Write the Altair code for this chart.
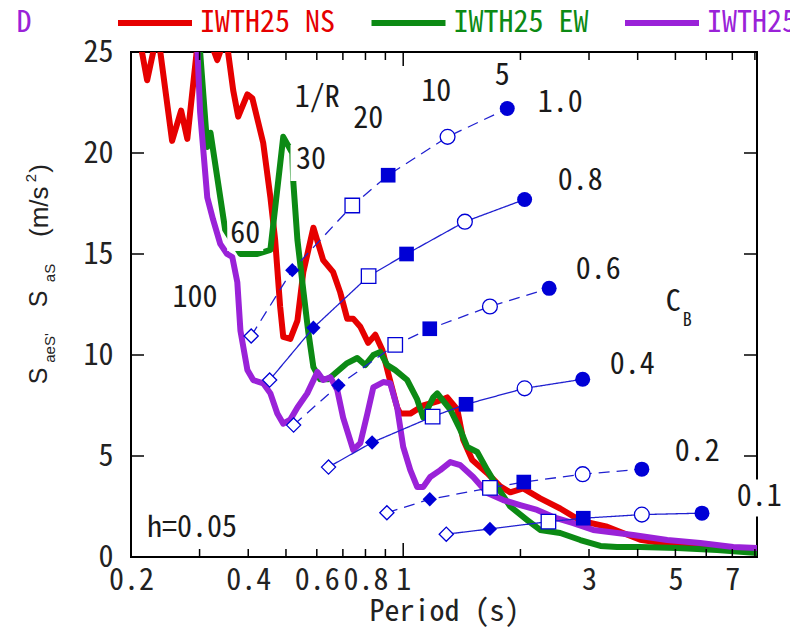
import altair as alt
import pandas as pd

FONT = "'Noto Sans Mono CJK JP', 'DejaVu Sans Mono', monospace"
SANS = "'Liberation Sans', Arial, sans-serif"
W, H = 626, 505

# ---------------- data ----------------
series_names = ["IWTH25 NS", "IWTH25 EW", "IWTH25 UD"]
series_colors = ["#e60000", "#0c8a14", "#9a22d8"]

# (period [s], S_aS [m/s2])
ns_pts = [(0.200, 27), (0.212, 25.3), (0.220, 23.6), (0.231, 25.5), (0.236, 25.5), (0.255, 20.6),
          (0.269, 22.1), (0.279, 20.7), (0.296, 25.3), (0.310, 27), (0.323, 25.3), (0.333, 24.6),
          (0.343, 25.3), (0.350, 26), (0.355, 25.0), (0.366, 23.1), (0.377, 21.8), (0.398, 22.9),
          (0.410, 22.7), (0.437, 20.5), (0.456, 17.8), (0.469, 15.7), (0.483, 12.4), (0.492, 10.9),
          (0.513, 10.8), (0.535, 11.7), (0.554, 14.1), (0.588, 16.3), (0.623, 14.7), (0.661, 14.1),
          (0.689, 13.1), (0.718, 11.8), (0.744, 11.8), (0.776, 11.4), (0.813, 10.6), (0.848, 11.0),
          (0.884, 10.25), (0.915, 9.1), (0.965, 7.4), (0.983, 7.1), (1.043, 7.1), (1.126, 7.5),
          (1.223, 7.7), (1.297, 7.9), (1.377, 7.3), (1.426, 5.8), (1.504, 4.8), (1.644, 4.15),
          (1.775, 3.5), (1.883, 3.2), (2.033, 3.4), (2.248, 2.9), (2.53, 2.4), (2.85, 1.8),
          (3.34, 1.5), (4.06, 0.85), (4.94, 0.6), (6.25, 0.45), (8.1, 0.35)]
ew_pts = [(0.296, 27), (0.301, 25), (0.314, 20.3), (0.320, 21.0), (0.349, 16.2), (0.382, 15.0),
          (0.422, 15.0), (0.456, 15.2), (0.492, 20.8), (0.519, 20.0), (0.522, 18.6), (0.535, 15.7),
          (0.554, 13.2), (0.570, 11.2), (0.588, 9.4), (0.612, 8.8), (0.642, 8.8), (0.669, 9.1),
          (0.718, 9.6), (0.762, 9.85), (0.799, 9.5), (0.838, 10.0), (0.873, 10.15), (0.910, 9.5),
          (0.954, 9.25), (1.024, 8.76), (1.086, 7.8), (1.126, 6.9), (1.194, 7.9), (1.223, 8.1),
          (1.321, 7.3), (1.401, 6.3), (1.460, 5.45), (1.549, 5.2), (1.644, 4.3), (1.744, 3.47),
          (1.883, 2.5), (2.082, 1.83), (2.248, 1.34), (2.53, 1.19), (2.85, 0.84), (3.21, 0.55),
          (3.54, 0.5), (4.06, 0.5), (5.05, 0.45), (6.4, 0.35), (8.1, 0.2)]
ud_pts = [(0.294, 27), (0.296, 25.2), (0.301, 22.0), (0.314, 17.8), (0.325, 16.7), (0.339, 15.5),
          (0.353, 15.0), (0.364, 14.85), (0.375, 13.6), (0.382, 11.2), (0.398, 9.26), (0.412, 8.76),
          (0.437, 8.6), (0.456, 8.1), (0.475, 7.1), (0.492, 6.6), (0.513, 6.8), (0.535, 7.4),
          (0.567, 8.1), (0.602, 9.16), (0.623, 8.76), (0.650, 8.9), (0.677, 8.27), (0.701, 6.9),
          (0.744, 5.3), (0.776, 5.64), (0.809, 7.1), (0.838, 8.4), (0.889, 8.66), (0.926, 8.6),
          (0.965, 7.4), (1.000, 5.45), (1.043, 4.3), (1.086, 3.47), (1.126, 3.47), (1.173, 3.96),
          (1.245, 4.3), (1.321, 4.7), (1.401, 4.55), (1.513, 3.96), (1.644, 3.17), (1.806, 2.82),
          (1.997, 2.57), (2.208, 2.33), (2.428, 1.98), (2.733, 1.68), (3.075, 1.34), (3.896, 1.09),
          (4.764, 0.84), (5.79, 0.69), (7.04, 0.5), (8.1, 0.45)]

# demand curves: C_B levels, 1/R markers
cb_levels = ["1.0", "0.8", "0.6", "0.4", "0.2", "0.1"]
inv_r = [100, 60, 30, 20, 10, 5]
cb_T = {
    "1.0": [0.407, 0.519, 0.740, 0.915, 1.30, 1.85],
    "0.8": [0.454, 0.588, 0.815, 1.02, 1.44, 2.05],
    "0.6": [0.523, 0.682, 0.954, 1.17, 1.67, 2.37],
    "0.4": [0.643, 0.832, 1.19, 1.45, 2.05, 2.89],
    "0.2": [0.908, 1.17, 1.67, 2.04, 2.89, 4.10],
    "0.1": [1.29, 1.67, 2.36, 2.90, 4.10, 5.85],
}
cb_S = {
    "1.0": [10.94, 14.2, 17.4, 18.9, 20.8, 22.2],
    "0.8": [8.76, 11.35, 13.9, 15.0, 16.6, 17.7],
    "0.6": [6.53, 8.5, 10.5, 11.3, 12.4, 13.3],
    "0.4": [4.45, 5.67, 6.95, 7.56, 8.35, 8.8],
    "0.2": [2.19, 2.86, 3.42, 3.71, 4.1, 4.35],
    "0.1": [1.13, 1.39, 1.75, 1.92, 2.1, 2.17],
}
dashed_levels = ["1.0", "0.6", "0.2"]

# annotations (text, period, S, font size)
annotations = [("1/R", 0.602, 22.7, 30), ("20", 0.813, 21.7, 30), ("10", 1.216, 23.0, 30),
               ("5", 1.796, 23.8, 30), ("30", 0.580, 19.65, 30), ("60", 0.393, 16.0, 30),
               ("100", 0.292, 12.8, 30), ("1.0", 2.53, 22.5, 30), ("0.8", 2.85, 18.6, 30),
               ("0.6", 3.168, 14.2, 30), ("0.4", 3.873, 9.5, 30), ("0.2", 5.69, 5.2, 30),
               ("0.1", 8.21, 2.97, 30), ("h=0.05", 0.287, 1.44, 30), ("C", 4.94, 12.62, 30),
               ("B", 5.36, 11.68, 18)]
# white label backgrounds (period, S, width px, height px)
label_boxes = [(0.393, 15.94, 36, 32), (0.578, 19.5, 40, 36), (8.13, 2.92, 48, 37)]

x_label_values = [0.2, 0.4, 0.6, 0.8, 1, 3, 5, 7]
x_minor = [0.3, 0.4, 0.5, 0.6, 0.7, 0.8, 0.9, 2, 3, 4, 5, 6, 7, 8]
x_major = [1]
y_ticks = [0, 5, 10, 15, 20, 25]
y_inner = [5, 10, 15, 20]

# ---------------- encodings ----------------
xscale = alt.Scale(type="log", domain=[0.2, 8.1], nice=False)
yscale = alt.Scale(domain=[0, 25], nice=False)
xaxis = alt.Axis(values=x_label_values, format=".1~f", labelFont=FONT, labelFontSize=30,
                 labelColor="#222", ticks=False, domain=False, grid=False, labelPadding=8,
                 labelOverlap=False, labelFlush=False, title="Period (s)", titleFont=FONT,
                 titleFontSize=30, titleFontWeight="normal", titleColor="#222", titlePadding=1)
yaxis = alt.Axis(values=y_ticks, ticks=False, domain=False, grid=False, labelFont=FONT,
                 labelFontSize=30, labelColor="#222", labelPadding=18, title=None)
X = alt.X("T:Q", scale=xscale, axis=xaxis)
Y = alt.Y("S:Q", scale=yscale, axis=yaxis)

layers = []

# spectra
for name, color, pts in zip(series_names, series_colors, [ns_pts, ew_pts, ud_pts]):
    df = pd.DataFrame({"T": [p[0] for p in pts], "S": [p[1] for p in pts],
                       "i": list(range(len(pts)))})
    layers.append(alt.Chart(df).mark_line(color=color, strokeWidth=6, clip=True,
                                          strokeJoin="round").encode(x=X, y=Y, order="i:Q"))

# white label backgrounds
for t, s, w, h in label_boxes:
    r = h / w
    path = f"M-1,-{r:.3f}L1,-{r:.3f}L1,{r:.3f}L-1,{r:.3f}Z"
    layers.append(alt.Chart(pd.DataFrame({"T": [t], "S": [s]})).mark_point(
        shape=path, size=w * w, filled=True, color="white", opacity=1).encode(x=X, y=Y))

# demand curves
rows = []
for cb in cb_levels:
    for r_, t, s in zip(inv_r, cb_T[cb], cb_S[cb]):
        rows.append({"CB": cb, "R": str(r_), "T": t, "S": s})
blue = pd.DataFrame(rows)
BLUE = "#0000d6"
dash_range = [[11, 7] if cb in dashed_levels else [1, 0] for cb in cb_levels]
layers.append(alt.Chart(blue).mark_line(color="#2020d0", strokeWidth=1.3).encode(
    x=X, y=Y, detail="CB:N", order="T:Q",
    strokeDash=alt.StrokeDash("CB:N", scale=alt.Scale(domain=cb_levels, range=dash_range),
                              legend=None)))
shape_scale = alt.Scale(domain=[str(v) for v in inv_r],
                        range=["diamond", "diamond", "square", "square", "circle", "circle"])
size_scale = alt.Scale(domain=[str(v) for v in inv_r], range=[200, 225, 130, 225, 140, 225])
layers.append(alt.Chart(blue).transform_filter(
    alt.FieldOneOfPredicate(field="R", oneOf=["60", "20", "5"])).mark_point(
    filled=True, color=BLUE, opacity=1).encode(
    x=X, y=Y, shape=alt.Shape("R:N", scale=shape_scale, legend=None),
    size=alt.Size("R:N", scale=size_scale, legend=None)))
layers.append(alt.Chart(blue).transform_filter(
    alt.FieldOneOfPredicate(field="R", oneOf=["100", "30", "10"])).mark_point(
    filled=False, color=BLUE, fill="white", fillOpacity=1, strokeWidth=1.3, opacity=1).encode(
    x=X, y=Y, shape=alt.Shape("R:N", scale=shape_scale, legend=None),
    size=alt.Size("R:N", scale=size_scale, legend=None)))

# inward ticks on all four sides
xt_minor = pd.DataFrame({"T": x_minor})
xt_major = pd.DataFrame({"T": x_major})
yt = pd.DataFrame({"S": y_inner})
for df, ln in [(xt_minor, 8), (xt_major, 14)]:
    layers.append(alt.Chart(df).mark_rule(color="black", strokeWidth=1.5).encode(
        x=X, y=alt.value(H), y2=alt.value(H - ln)))
    layers.append(alt.Chart(df).mark_rule(color="black", strokeWidth=1.5).encode(
        x=X, y=alt.value(0), y2=alt.value(ln)))
layers.append(alt.Chart(yt).mark_rule(color="black", strokeWidth=1.5).encode(
    y=Y, x=alt.value(0), x2=alt.value(13)))
layers.append(alt.Chart(yt).mark_rule(color="black", strokeWidth=1.5).encode(
    y=Y, x=alt.value(W), x2=alt.value(W - 13)))

# annotations
ann = pd.DataFrame(annotations, columns=["label", "T", "S", "fs"])
layers.append(alt.Chart(ann).mark_text(font=FONT, color="#1a1a1a", align="center",
                                       baseline="middle").encode(
    x=X, y=Y, text="label:N", size=alt.Size("fs:Q", scale=None)))

# legend (top)
one = pd.DataFrame({"k": [0]})
for i, (name, color) in enumerate(zip(series_names, series_colors)):
    x0 = -13 + i * 253.5
    layers.append(alt.Chart(one).mark_rule(color=color, strokeWidth=6).encode(
        x=alt.value(x0), x2=alt.value(x0 + 74), y=alt.value(-29)))
    layers.append(alt.Chart(one).mark_text(text=name, font=FONT, fontSize=30, color=color,
                                           align="left", baseline="middle").encode(
        x=alt.value(x0 + 82), y=alt.value(-29)))
layers.append(alt.Chart(one).mark_text(text="D", font=FONT, fontSize=30, color=series_colors[2],
                                       align="center", baseline="middle").encode(
    x=alt.value(-107), y=alt.value(-29)))

# rotated y title pieces: (text, x, y, size, align)
ytitle = [("S", -84, 247, 25, "center"), ("aS", -76, 221, 15, "center"),
          ("(m/s", -83, 185, 26, "left"), ("2", -95, 126, 15, "center"),
          (")", -83, 112, 26, "right"),
          ("S", -84, 324, 25, "center"), ("aeS'", -76, 296, 15, "center")]
for txt, xx, yy, fs, al in ytitle:
    layers.append(alt.Chart(one).mark_text(text=txt, font=SANS, fontSize=fs, color="#222",
                                           angle=270, align=al, baseline="alphabetic").encode(
        x=alt.value(xx), y=alt.value(yy)))

chart = alt.layer(*layers).properties(
    width=W, height=H,
    autosize=alt.AutoSizeParams(type="none"),
    padding={"left": 131, "top": 52, "right": 33, "bottom": 73},
).configure_view(stroke="black", strokeWidth=2)

chart.save("out.html", embed_options={"renderer": "svg", "actions": False})
